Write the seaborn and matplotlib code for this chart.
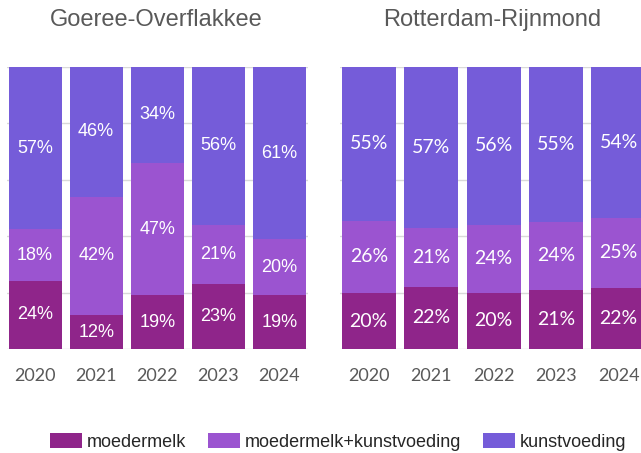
import numpy as np
import pandas as pd
import matplotlib
matplotlib.use("Agg")
import matplotlib.pyplot as plt
from matplotlib.patches import Patch
import seaborn as sns

sns.set_style("white")
plt.rcParams['font.family'] = ['Liberation Sans', 'DejaVu Sans']

years = ['2020', '2021', '2022', '2023', '2024']
series = ['moedermelk', 'moedermelk+kunstvoeding', 'kunstvoeding']
colors = ['#8F258A', '#9B54D0', '#755CD9']

# Goeree-Overflakkee
go_moedermelk = [24, 12, 19, 23, 19]
go_mix = [18, 42, 47, 21, 20]
go_kunst = [57, 46, 34, 56, 61]

# Rotterdam-Rijnmond
rr_moedermelk = [20, 22, 20, 21, 22]
rr_mix = [26, 21, 24, 24, 25]
rr_kunst = [55, 57, 56, 55, 54]

grey = '#595959'


def stacked(ax, title, vals, label_font, label_size, tx):
    df = pd.DataFrame(dict(zip(series, vals)), index=years)
    pct = df.div(df.sum(axis=1), axis=0) * 100
    cum = pct.cumsum(axis=1)
    # draw from the top layer down so the lower layers sit on top
    for s, c in reversed(list(zip(series, colors))):
        sns.barplot(x=years, y=cum[s].values, color=c, saturation=1,
                    width=0.87, linewidth=0, ax=ax, zorder=2)
    for i, y in enumerate(years):
        bottom = 0
        for s in series:
            h = pct.loc[y, s]
            ax.text(i, bottom + h / 2, f"{df.loc[y, s]}%", ha='center', va='center',
                    color='white', fontsize=label_size, family=label_font, zorder=3)
            bottom += h
    ax.set_ylim(0, 100)
    ax.set_xlim(-0.46, 4.47)
    ax.set_yticks(np.arange(0, 101, 20))
    ax.yaxis.grid(True, color='#D9D9D9', linewidth=1, zorder=0)
    ax.set_axisbelow(True)
    ax.set_yticklabels([])
    ax.tick_params(axis='y', length=0)
    ax.tick_params(axis='x', length=0, pad=14, labelsize=13, labelcolor=grey)
    for lab in ax.get_xticklabels():
        lab.set_family(['Lato', 'DejaVu Sans'])
    for sp in ax.spines.values():
        sp.set_visible(False)
    ax.set_xlabel('')
    ax.set_ylabel('')
    fig.text(tx, 1 - 20 / 453, title, ha='center', va='center', fontsize=17, color=grey)


fig = plt.figure(figsize=(6.41, 4.53), dpi=100)
ax1 = fig.add_axes([7 / 641, 104 / 453, 301 / 641, 282 / 453])
ax2 = fig.add_axes([340 / 641, 104 / 453, 308 / 641, 282 / 453])

stacked(ax1, 'Goeree-Overflakkee', [go_moedermelk, go_mix, go_kunst],
        ['Liberation Sans'], 13, 156 / 641)
stacked(ax2, 'Rotterdam-Rijnmond', [rr_moedermelk, rr_mix, rr_kunst],
        ['Lato', 'DejaVu Sans'], 14, 492 / 641)

handles = [Patch(facecolor=c, edgecolor='none', label=s) for s, c in zip(series, colors)]
fig.legend(handles=handles, loc='center', bbox_to_anchor=(338 / 641, 11 / 453), ncol=3,
           frameon=False, fontsize=13, handlelength=1.8, handleheight=0.9,
           handletextpad=0.25, columnspacing=1.2)

fig.savefig('out.png', dpi=100)
